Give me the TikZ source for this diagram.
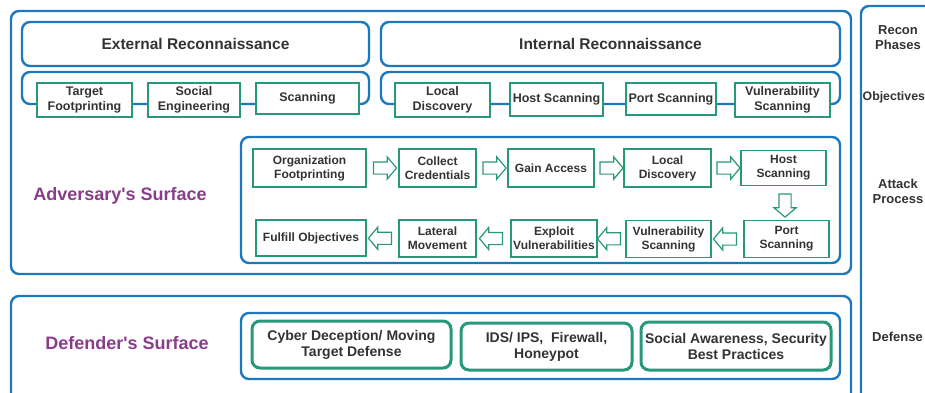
\documentclass[tikz,border=0pt]{standalone}
\usepackage{fontspec}
\setmainfont{Liberation Sans}
\usetikzlibrary{shapes.arrows,calc}

\definecolor{surfblue}{RGB}{28,120,188}
\definecolor{stepgreen}{RGB}{40,152,122}
\definecolor{surfpurple}{RGB}{138,60,140}
\definecolor{darktext}{RGB}{51,51,51}

\tikzset{
    surface/.style={draw=surfblue, line width=2.4pt, rounded corners=8pt},
    header/.style={surface, fill=white, text=darktext, font=\bfseries\fontsize{15.5}{17}\selectfont},
    stepbox/.style={draw=stepgreen, line width=1.3pt, fill=white, text=darktext, align=center,
        inner sep=1pt, font=\bfseries\fontsize{12}{14}\selectfont},
    objbox/.style={stepbox, font=\bfseries\fontsize{12.5}{14.5}\selectfont},
    defbox/.style={draw=stepgreen, line width=3pt, rounded corners=8pt, fill=white, text=darktext,
        align=center, inner sep=1pt, font=\bfseries\fontsize{14}{16}\selectfont},
    flowarrow/.style={single arrow, draw=stepgreen, line width=1.2pt, fill=white,
        minimum height=23pt, inner sep=5.5pt, single arrow head extend=5pt,
        single arrow tip angle=100},
    surflabel/.style={text=surfpurple, font=\bfseries\fontsize{18}{20}\selectfont},
    sidelabel/.style={text=darktext, align=center, font=\bfseries\fontsize{13}{15}\selectfont}
}

\begin{document}
\begin{tikzpicture}[x=1pt,y=-1pt]
    \useasboundingbox (0,0) rectangle (925,392);

    % surfaces
    \draw[surface] (11,11) rectangle (851,274);
    \draw[surface] (11,296) rectangle (851,430);
    \draw[surface] (861,6) rectangle (990,430);

    % recon phases
    \node[header, minimum width=347pt, minimum height=44pt] (extrecon) at (195.5,44) {External Reconnaissance};
    \node[header, minimum width=459pt, minimum height=44pt] (intrecon) at (610.5,44) {Internal Reconnaissance};

    % objectives
    \draw[surface] (22,72) rectangle (369,104);
    \draw[surface] (381,72) rectangle (840,104);
    \node[objbox, minimum width=95pt, minimum height=34pt] (tfp) at (84.5,100) {Target\\Footprinting};
    \node[objbox, minimum width=92pt, minimum height=34pt] (soceng) at (194,100) {Social\\Engineering};
    \node[objbox, minimum width=103pt, minimum height=31pt] (scan) at (307.5,98.5) {Scanning};
    \node[objbox, minimum width=95pt, minimum height=34pt] (ldisc1) at (442.5,100) {Local\\Discovery};
    \node[objbox, minimum width=93pt, minimum height=33pt] (hscan1) at (556.5,99.5) {Host Scanning};
    \node[objbox, minimum width=90pt, minimum height=32pt] (pscan1) at (671,99) {Port Scanning};
    \node[objbox, minimum width=95pt, minimum height=34pt] (vscan1) at (782.5,100) {Vulnerability\\Scanning};

    \node[surflabel] (advlabel) at (120,196) {Adversary\textquotesingle s Surface};

    % attack process
    \draw[surface] (241,137) rectangle (840,263);
    \node[stepbox, minimum width=113pt, minimum height=38pt] (orgfp) at (309.5,168) {Organization\\Footprinting};
    \node[stepbox, minimum width=77pt, minimum height=38pt] (colcred) at (437.5,168) {Collect\\Credentials};
    \node[stepbox, minimum width=86pt, minimum height=38pt] (gain) at (551,168) {Gain Access};
    \node[stepbox, minimum width=87pt, minimum height=38pt] (ldisc2) at (667.5,168) {Local\\Discovery};
    \node[stepbox, minimum width=85pt, minimum height=35pt] (hscan2) at (783.5,168) {Host\\Scanning};

    \node[stepbox, minimum width=110pt, minimum height=36pt] (fulfill) at (311,238) {Fulfill Objectives};
    \node[stepbox, minimum width=77pt, minimum height=37pt] (lateral) at (437.5,238.5) {Lateral\\Movement};
    \node[stepbox, minimum width=86pt, minimum height=37pt] (exploit) at (554,238.5) {Exploit\\Vulnerabilities};
    \node[stepbox, minimum width=85pt, minimum height=37pt] (vscan2) at (668.5,239) {Vulnerability\\Scanning};
    \node[stepbox, minimum width=85pt, minimum height=37pt] (pscan2) at (786.5,239) {Port\\Scanning};

    % block arrows between the steps
    \foreach \a/\b/\n in {orgfp/colcred/ar1, colcred/gain/ar2, gain/ldisc2/ar3, ldisc2/hscan2/ar4} {
        \node[flowarrow] (\n) at ($(\a.east)!0.5!(\b.west)$) {};
    }
    \node[flowarrow, shape border rotate=270] (ard) at ($(hscan2.south)!0.5!(pscan2.north)$) {};
    \foreach \a/\b/\n in {pscan2/vscan2/al1, vscan2/exploit/al2, exploit/lateral/al3, lateral/fulfill/al4} {
        \node[flowarrow, shape border rotate=180] (\n) at ($(\a.west)!0.5!(\b.east)$) {};
    }

    % defenses
    \node[surflabel] (deflabel) at (127,343) {Defender\textquotesingle s Surface};
    \draw[surface] (241,313) rectangle (840,379);
    \node[defbox, minimum width=199pt, minimum height=47pt] (decept) at (351.5,344.5) {Cyber Deception/ Moving\\Target Defense};
    \node[defbox, minimum width=171pt, minimum height=47pt] (idsips) at (546.5,346.5) {IDS/ IPS,~ Firewall,\\Honeypot};
    \node[defbox, minimum width=190pt, minimum height=48pt] (social) at (736,346) {Social Awareness, Security\\Best Practices};

    % side labels
    \node[sidelabel] (sphase) at (898,38) {Recon\\Phases};
    \node[sidelabel, anchor=west, inner sep=0pt, font=\bfseries\fontsize{12.3}{14}\selectfont] (sobj) at (862.5,97) {Objectives};
    \node[sidelabel] (sattack) at (898,191) {Attack\\Process};
    \node[sidelabel, anchor=west, inner sep=0pt] (sdef) at (872,337) {Defense};
\end{tikzpicture}
\end{document}
